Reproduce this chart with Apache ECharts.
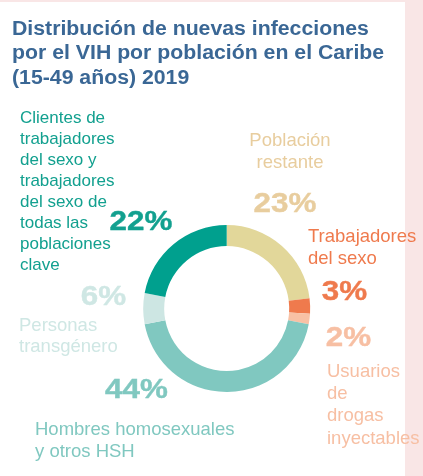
<!DOCTYPE html>
<html>
<head>
<meta charset="utf-8">
<script src="https://cdn.jsdelivr.net/npm/echarts@6/dist/echarts.min.js"></script>
<style>
  html, body { margin: 0; padding: 0; background: #f9e6e6; }
  #chart { width: 423px; height: 476px; }
</style>
</head>
<body>
<div id="chart"></div>
<script>
// datos
const titleLines = ['Distribución de nuevas infecciones', 'por el VIH por población en el Caribe', '(15-49 años) 2019']
const categories = [
  'Población restante',
  'Trabajadores del sexo',
  'Usuarios de drogas inyectables',
  'Hombres homosexuales y otros HSH',
  'Personas transgénero',
  'Clientes de trabajadores del sexo y trabajadores del sexo de todas las poblaciones clave'
]
const labelText = [
  'Población\nrestante',
  'Trabajadores\ndel sexo',
  'Usuarios\nde\ndrogas\ninyectables',
  'Hombres homosexuales\ny otros HSH',
  'Personas\ntransgénero',
  'Clientes de\ntrabajadores\ndel sexo y\ntrabajadores\ndel sexo de\ntodas las\npoblaciones\nclave'
]
const values = [23, 3, 2, 44, 6, 22]

const sliceColors = ['#e2d79a', '#ef7a4d', '#f8c1a5', '#80c8c0', '#cde6e3', '#00a08e']
const textColors = ['#e8cd9e', '#ef7a4d', '#f7bfa3', '#80c8c0', '#cfe7e4', '#12a08f']

// posición de cada etiqueta: [x, y, align, tamaño, interlineado] y del porcentaje [x, y]
const nameLayout = [
  [290, 129.6, 'center', 18.5, 22],
  [308, 225.6, 'left', 18.5, 22],
  [327, 360.5, 'left', 18.5, 22.3],
  [35, 418.6, 'left', 18.5, 22],
  [19, 314.9, 'left', 18.5, 21.5],
  [20, 107.6, 'left', 17, 21]
]
const pctLayout = [
  [285, 204.6],
  [344.5, 292.6],
  [348.5, 338.6],
  [136.5, 390.6],
  [103.5, 297.6],
  [141, 222.6]
]

const chart = echarts.init(document.getElementById('chart'))
const FONT = '"Liberation Sans", Arial, sans-serif'

const graphics = [
  {
    type: 'rect',
    shape: { x: 0, y: 2, width: 405, height: 474 },
    style: { fill: '#ffffff' },
    z: 0,
    silent: true
  },
  {
    type: 'text',
    x: 12,
    y: 16.8,
    scaleX: 1.063,
    z: 100,
    style: {
      text: titleLines.join('\n'),
      fill: '#3a6795',
      font: 'bold 20px ' + FONT,
      lineHeight: 24.5,
      textAlign: 'left',
      textVerticalAlign: 'top'
    }
  }
]

categories.forEach(function(name, i) {
  const n = nameLayout[i]
  graphics.push({
    type: 'text',
    x: n[0],
    y: n[1],
    z: 100,
    style: {
      text: labelText[i],
      fill: textColors[i],
      font: n[3] + 'px ' + FONT,
      lineHeight: n[4],
      textAlign: n[2],
      textVerticalAlign: 'top'
    }
  })
  const p = pctLayout[i]
  graphics.push({
    type: 'text',
    x: p[0],
    y: p[1],
    scaleX: 1.12,
    z: 100,
    style: {
      text: values[i] + '%',
      fill: textColors[i],
      stroke: textColors[i],
      lineWidth: 0.4,
      font: 'bold 28px ' + FONT,
      textAlign: 'center',
      textVerticalAlign: 'middle'
    }
  })
})

chart.setOption({
  backgroundColor: '#f9e6e6',
  animation: false,
  graphic: graphics,
  series: [
    {
      type: 'pie',
      center: [226.7, 308.6],
      radius: [62.5, 83.5],
      startAngle: 90,
      clockwise: true,
      silent: true,
      label: { show: false },
      labelLine: { show: false },
      itemStyle: { borderWidth: 0 },
      data: categories.map(function(name, i) {
        return { name: name, value: values[i], itemStyle: { color: sliceColors[i] } }
      }),
      z: 10
    }
  ]
})
</script>
</body>
</html>
